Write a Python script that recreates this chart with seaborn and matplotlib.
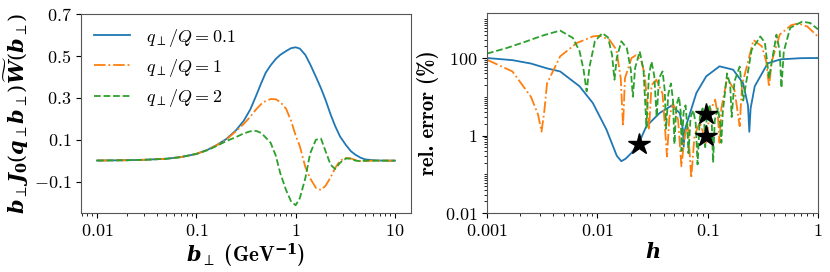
import matplotlib
matplotlib.use("Agg")
import matplotlib.pyplot as plt
import pandas as pd
import seaborn as sns
from matplotlib.ticker import FixedLocator, FixedFormatter, LogLocator, NullFormatter

# ---- left panel: integrand vs b_perp ----
b_perp = [0.01, 0.02, 0.03, 0.05, 0.07, 0.1, 0.13, 0.16, 0.2, 0.25, 0.3, 0.35,
          0.4, 0.45, 0.5, 0.56, 0.63, 0.7, 0.8, 0.9, 1.0, 1.1, 1.25, 1.4, 1.6,
          1.8, 2.0, 2.25, 2.5, 2.8, 3.2, 3.6, 4.0, 4.5, 5.0, 6.0, 7.0, 8.5, 10.0]
w_q01 = [0.0005, 0.002, 0.004, 0.009, 0.017, 0.032, 0.052, 0.074, 0.103, 0.144,
         0.19, 0.245, 0.31, 0.37, 0.42, 0.455, 0.485, 0.505, 0.523, 0.537, 0.541,
         0.535, 0.505, 0.46, 0.40, 0.345, 0.29, 0.22, 0.165, 0.115, 0.075, 0.045,
         0.028, 0.014, 0.006, 0.002, 0.0005, 0.0, 0.0]
w_q1 = [0.0005, 0.002, 0.004, 0.009, 0.017, 0.032, 0.052, 0.073, 0.1, 0.14,
        0.175, 0.21, 0.245, 0.27, 0.285, 0.294, 0.293, 0.28, 0.248, 0.19, 0.12,
        0.07, -0.03, -0.085, -0.13, -0.14, -0.12, -0.08, -0.035, 0.0, 0.013,
        0.01, 0.003, -0.002, -0.002, 0.0, 0.0, 0.0, 0.0]
w_q2 = [0.0005, 0.002, 0.004, 0.009, 0.017, 0.032, 0.05, 0.07, 0.093, 0.112,
        0.13, 0.14, 0.142, 0.132, 0.11, 0.085, 0.025, -0.06, -0.14, -0.195,
        -0.213, -0.18, -0.085, 0.035, 0.1, 0.105, 0.045, -0.02, -0.04, -0.01,
        0.01, 0.01, 0.0, -0.003, 0.0, 0.0, 0.0, 0.0, 0.0]

# ---- right panel: relative error vs h ----
h_q01 = [0.001, 0.0017, 0.0025, 0.0035, 0.0046, 0.0069, 0.0091, 0.0121, 0.0139,
         0.015, 0.0165, 0.018, 0.0204, 0.0237, 0.0278, 0.0367, 0.047, 0.0558,
         0.0595, 0.0607, 0.0625, 0.0664, 0.079, 0.097, 0.128, 0.17, 0.209, 0.232,
         0.2385, 0.245, 0.267, 0.35, 0.46, 0.7, 1.0]
err_q01 = [100, 88, 72, 54, 45, 18.6, 6.9, 1.42, 0.52, 0.3, 0.217, 0.25, 0.355,
           0.62, 1.73, 3.8, 5.9, 3.8, 1.5, 0.52, 1.5, 2.6, 12.5, 33.6, 61, 50,
           22.6, 6, 1.25, 5, 18.6, 73, 92.5, 99, 100]

h_q1 = [0.001, 0.0017, 0.0025, 0.0029, 0.00312, 0.0033, 0.0035, 0.0046, 0.0065,
        0.0091, 0.0105, 0.0129, 0.0149, 0.0163, 0.0171, 0.0178, 0.0204, 0.0224,
        0.025, 0.027, 0.0294, 0.031, 0.0343, 0.039, 0.0428, 0.045, 0.0485, 0.054,
        0.0578, 0.062, 0.066, 0.071, 0.076, 0.085, 0.097, 0.104, 0.117, 0.124,
        0.128, 0.133, 0.15, 0.175, 0.195, 0.205, 0.26, 0.31, 0.34, 0.36, 0.38,
        0.45, 0.57, 0.66, 0.8, 1.0]
err_q1 = [90, 45, 10, 3.5, 1.26, 4, 22, 110, 243, 360, 376, 295, 162, 30, 1.74,
          30, 100, 118, 85, 35, 1.4, 20, 27.5, 12, 0.29, 3, 6.9, 2.5, 0.16, 1, 2,
          0.08, 1, 2.2, 0.65, 4, 8.4, 3, 0.65, 5, 30, 15, 1.74, 20, 290, 200, 80,
          18, 80, 400, 700, 780, 650, 355]

h_q2 = [0.001, 0.0015, 0.0022, 0.0032, 0.0046, 0.006, 0.0069, 0.0075, 0.008,
        0.0085, 0.0095, 0.0111, 0.0125, 0.0136, 0.0143, 0.015, 0.0165, 0.0185,
        0.0201, 0.021, 0.022, 0.0242, 0.0262, 0.0279, 0.0293, 0.031, 0.0328,
        0.0345, 0.0362, 0.039, 0.0408, 0.042, 0.044, 0.0465, 0.0485, 0.05, 0.052,
        0.055, 0.057, 0.058, 0.0605, 0.063, 0.065, 0.067, 0.07, 0.074, 0.078,
        0.081, 0.085, 0.09, 0.093, 0.095, 0.098, 0.104, 0.109, 0.112, 0.116,
        0.124, 0.13, 0.133, 0.137, 0.15, 0.16, 0.165, 0.175, 0.195, 0.21, 0.25,
        0.3, 0.33, 0.36, 0.42, 0.45, 0.466, 0.49, 0.56, 0.72, 0.85, 1.0]
err_q2 = [130, 180, 260, 380, 510, 330, 150, 50, 13.8, 60, 270, 437, 340, 120,
          27.5, 100, 270, 180, 50, 10, 55, 148, 50, 1.6, 35, 81, 35, 3, 30, 45,
          15, 1.5, 12, 22, 8, 0.6, 6, 10, 4, 0.4, 4, 6, 2, 0.35, 3, 4.5, 2, 0.18,
          3, 5, 2.5, 0.5, 3, 6.3, 2, 0.2, 2.5, 5, 2, 0.65, 4, 40, 20, 3, 25, 60,
          8, 160, 360, 250, 30, 400, 150, 17, 150, 600, 870, 800, 550]

star_h = [0.0237, 0.097, 0.097]
star_err = [0.62, 3.5, 1.0]

labels = [r'$q_\perp/Q = 0.1$', r'$q_\perp/Q = 1$', r'$q_\perp/Q = 2$']
colors = ['#1f77b4', '#ff7f0e', '#2ca02c']
styles = ['-', '-.', '--']

plt.rcParams['mathtext.fontset'] = 'cm'
plt.rcParams['font.family'] = ['cmr10', 'DejaVu Serif']
plt.rcParams['axes.unicode_minus'] = False

fig = plt.figure(figsize=(8.3, 2.72), dpi=100)
ax1 = fig.add_axes([81 / 830, 1 - 213 / 272, 330 / 830, 199 / 272])
ax2 = fig.add_axes([487 / 830, 1 - 213 / 272, 331 / 830, 200 / 272])

left = pd.DataFrame({'b': b_perp, 'q01': w_q01, 'q1': w_q1, 'q2': w_q2})
for col, lab, c, ls in zip(['q01', 'q1', 'q2'], labels, colors, styles):
    sns.lineplot(data=left, x='b', y=col, ax=ax1, color=c, linestyle=ls,
                 linewidth=1.3, label=lab, estimator=None)

ax1.set_xscale('log')
ax1.set_xlim(0.0069, 14.5)
ax1.set_ylim(-0.25, 0.7)
ax1.xaxis.set_major_locator(FixedLocator([0.01, 0.1, 1, 10]))
ax1.xaxis.set_major_formatter(FixedFormatter(['$0.01$', '$0.1$', '$1$', '$10$']))
ax1.xaxis.set_minor_locator(LogLocator(base=10, subs=range(2, 10), numticks=20))
ax1.xaxis.set_minor_formatter(NullFormatter())
ax1.yaxis.set_major_locator(FixedLocator([-0.1, 0.1, 0.3, 0.5, 0.7]))
ax1.yaxis.set_major_formatter(FixedFormatter(['$-0.1$', '$0.1$', '$0.3$', '$0.5$', '$0.7$']))
ax1.tick_params(labelsize=13)
ax1.set_xlabel(r'$\mathbfit{b}_{\perp}$ (GeV$^{\mathbf{-1}}$)', fontsize=15,
               family='cmb10', math_fontfamily='dejavuserif', labelpad=2)
ax1.set_ylabel(r'$\mathbfit{b}_{\perp}\mathbfit{J}_{\mathbf{0}}(\mathbfit{q}_{\perp}\mathbfit{b}_{\perp})'
               r'\widetilde{\mathbfit{W}}(\mathbfit{b}_{\perp})$', fontsize=15,
               math_fontfamily='dejavuserif', labelpad=2)
ax1.legend(loc='upper left', frameon=False, fontsize=13, handlelength=2.0,
           borderaxespad=0.3, labelspacing=0.45, handletextpad=0.9)

series = [(h_q01, err_q01), (h_q1, err_q1), (h_q2, err_q2)]
for (hs, es), c, ls in zip(series, colors, styles):
    df = pd.DataFrame({'h': hs, 'err': es})
    sns.lineplot(data=df, x='h', y='err', ax=ax2, color=c, linestyle=ls,
                 linewidth=1.3, estimator=None, sort=False)
ax2.plot(star_h, star_err, linestyle='none', marker='*', color='black',
         markersize=16)

ax2.set_xscale('log')
ax2.set_yscale('log')
ax2.set_xlim(0.001, 1)
ax2.set_ylim(0.01, 1450)
ax2.xaxis.set_major_locator(FixedLocator([0.001, 0.01, 0.1, 1]))
ax2.xaxis.set_major_formatter(FixedFormatter(['$0.001$', '$0.01$', '$0.1$', '$1$']))
ax2.xaxis.set_minor_locator(LogLocator(base=10, subs=range(2, 10), numticks=20))
ax2.xaxis.set_minor_formatter(NullFormatter())
ax2.yaxis.set_major_locator(FixedLocator([0.01, 1, 100]))
ax2.yaxis.set_major_formatter(FixedFormatter(['$0.01$', '$1$', '$100$']))
ax2.yaxis.set_minor_locator(LogLocator(base=10, subs=range(1, 10), numticks=30))
ax2.yaxis.set_minor_formatter(NullFormatter())
ax2.tick_params(labelsize=13)
ax2.set_xlabel(r'$\mathbfit{h}$', fontsize=15, math_fontfamily='dejavuserif', labelpad=2)
ax2.set_ylabel('rel. error (%)', fontsize=15, family='cmb10', labelpad=4)

for ax in (ax1, ax2):
    for sp in ax.spines.values():
        sp.set_color('#555555')

fig.savefig('out.png', dpi=100)
